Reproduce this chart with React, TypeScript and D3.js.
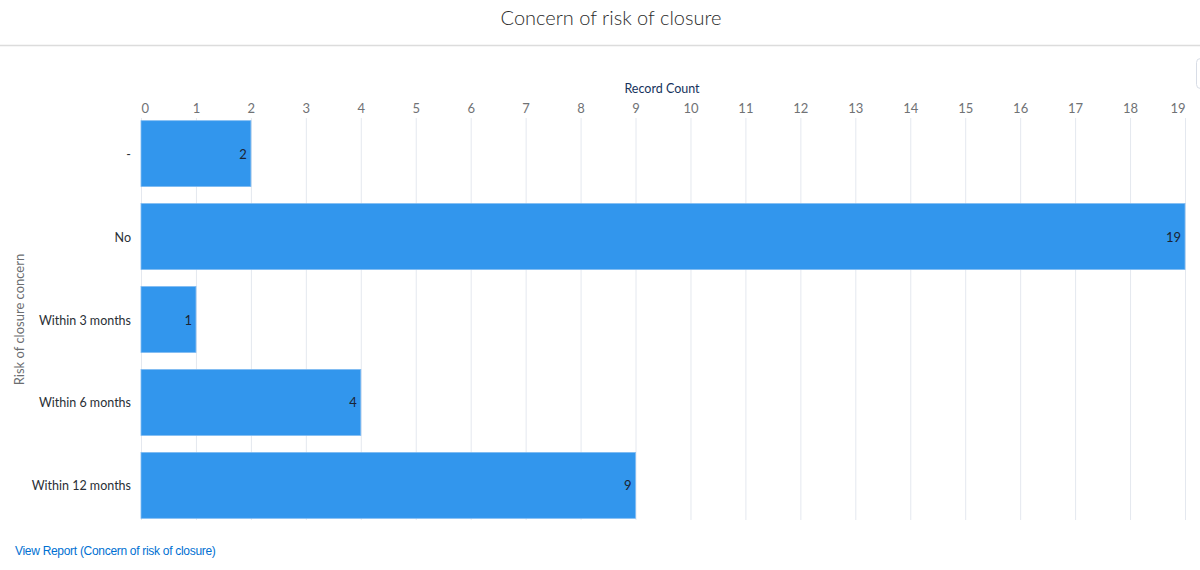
import React, { useEffect, useRef } from "react";
import * as d3 from "d3";

const categories = ["-", "No", "Within 3 months", "Within 6 months", "Within 12 months"];
const counts = [2, 19, 1, 4, 9];
const xTicks = d3.range(0, 20);

const W = 1200;
const H = 570;

const App = () => {
  const svgRef = useRef<SVGSVGElement>(null);

  useEffect(() => {
    const svg = d3.select(svgRef.current);
    svg.selectAll("*").remove();

    const font = "Lato, 'Open Sans', sans-serif";
    const left = 141;
    const right = 1185;
    const top = 119;
    const bottom = 520;

    // header
    svg
      .append("text")
      .attr("x", W / 2 + 11)
      .attr("y", 25)
      .attr("text-anchor", "middle")
      .attr("font-family", font)
      .attr("font-weight", 300)
      .attr("font-size", 20)
      .attr("fill", "#2b2b2b")
      .text("Concern of risk of closure");

    svg
      .append("line")
      .attr("x1", 0)
      .attr("x2", W)
      .attr("y1", 45.5)
      .attr("y2", 45.5)
      .attr("stroke", "#dcdcdc")
      .attr("stroke-width", 1.5);

    // little button edge on the right
    svg
      .append("rect")
      .attr("x", 1196.5)
      .attr("y", 58.5)
      .attr("width", 20)
      .attr("height", 30)
      .attr("rx", 4)
      .attr("fill", "#fff")
      .attr("stroke", "#d8dde6");

    const x = d3.scaleLinear().domain([0, 19]).range([left, right]);
    const y = d3
      .scaleBand()
      .domain(categories)
      .range([top, bottom])
      .paddingInner(0.205)
      .paddingOuter(0.02);

    // grid
    svg
      .append("g")
      .selectAll("line")
      .data(xTicks)
      .enter()
      .append("line")
      .attr("x1", (d) => x(d) + 0.5)
      .attr("x2", (d) => x(d) + 0.5)
      .attr("y1", top - 1)
      .attr("y2", bottom)
      .attr("stroke", "#e4e8ef")
      .attr("stroke-width", 1);

    // tick labels (end labels kept inside the plot)
    const last = xTicks.length - 1;
    svg
      .append("g")
      .selectAll("text")
      .data(xTicks)
      .enter()
      .append("text")
      .attr("x", (d) => x(d) + 0.5)
      .attr("y", 113)
      .attr("text-anchor", (d, i) => (i === 0 ? "start" : i === last ? "end" : "middle"))
      .attr("font-family", font)
      .attr("font-size", 13)
      .attr("fill", "#707275")
      .text((d) => d);

    svg
      .append("text")
      .attr("x", 662)
      .attr("y", 93)
      .attr("text-anchor", "middle")
      .attr("font-family", font)
      .attr("font-size", 12.5)
      .attr("fill", "#16325c")
      .text("Record Count");

    // bars
    svg
      .append("g")
      .selectAll("rect")
      .data(counts)
      .enter()
      .append("rect")
      .attr("x", left)
      .attr("y", (d, i) => y(categories[i]))
      .attr("width", (d) => x(d) - left)
      .attr("height", y.bandwidth())
      .attr("fill", "#3296ed")
      .attr("stroke", "#7fbbf2")
      .attr("stroke-width", 0.8);

    // value labels
    svg
      .append("g")
      .selectAll("text")
      .data(counts)
      .enter()
      .append("text")
      .attr("x", (d) => x(d) - 4)
      .attr("y", (d, i) => y(categories[i]) + y.bandwidth() / 2 + 5)
      .attr("text-anchor", "end")
      .attr("font-family", font)
      .attr("font-size", 13)
      .attr("fill", "#1a2433")
      .text((d) => d);

    // category labels
    svg
      .append("g")
      .selectAll("text")
      .data(categories)
      .enter()
      .append("text")
      .attr("x", 131)
      .attr("y", (d) => y(d) + y.bandwidth() / 2 + 5)
      .attr("text-anchor", "end")
      .attr("font-family", font)
      .attr("font-size", 12.5)
      .attr("fill", "#2a2f36")
      .text((d) => d);

    svg
      .append("text")
      .attr("transform", `translate(24,${(top + bottom) / 2}) rotate(-90)`)
      .attr("text-anchor", "middle")
      .attr("font-family", font)
      .attr("font-size", 13)
      .attr("fill", "#6b6d70")
      .text("Risk of closure concern");

    svg
      .append("text")
      .attr("x", 15)
      .attr("y", 555)
      .attr("font-family", "'Liberation Sans', Arial, sans-serif")
      .attr("font-size", 12)
      .attr("fill", "#0070d2")
      .style("letter-spacing", "-0.3px")
      .text("View Report (Concern of risk of closure)");
  }, []);

  return (
    <svg
      ref={svgRef}
      width={W}
      height={H}
      style={{ position: "absolute", left: 0, top: 0, background: "#fff" }}
    />
  );
};

export default App;
